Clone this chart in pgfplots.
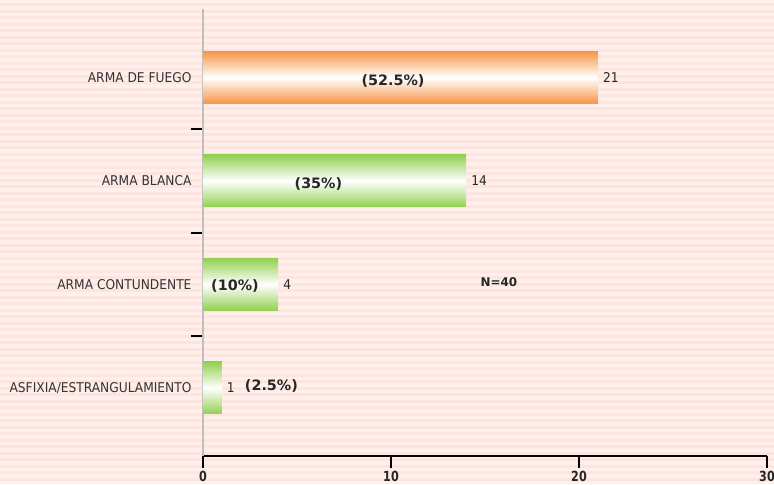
\documentclass[border=0pt]{standalone}
\usepackage{fontspec}
\setmainfont{DejaVu Sans}
\newfontfamily\condfont{DejaVu Sans}[FakeStretch=0.91]
\newfontfamily\tickfont{DejaVu Sans}[FakeStretch=0.8]
\usepackage{pgfplots}
\pgfplotsset{compat=1.18}
\usetikzlibrary{backgrounds,calc}
\definecolor{bgA}{HTML}{FCE5E0}
\definecolor{bgB}{HTML}{FFEEEA}
\definecolor{orangeE}{HTML}{F79646}
\definecolor{greenE}{HTML}{92D050}
\definecolor{txt}{HTML}{262626}
\pgfplotsset{
  mybar/.style={xbar, bar width=52bp, bar shift=0pt, draw=none, top color=#1, bottom color=#1, middle color=white, nodes near coords},
}
\begin{document}
\begin{tikzpicture}
\begin{axis}[
  scale only axis, width=564bp, height=447bp,
  xmin=0, xmax=30, ymin=-0.66, ymax=3.66,
  axis x line*=bottom, axis y line*=left,
  x axis line style={black, line width=2bp, -},
  y axis line style={draw=black!25, line width=2bp, -},
  xtick={0,10,20,30},
  ytick={0,1,2,3},
  yticklabels={ASFIXIA/ESTRANGULAMIENTO, ARMA CONTUNDENTE, ARMA BLANCA, ARMA DE FUEGO},
  minor ytick={0.5,1.5,2.5},
  tick align=outside,
  major tick length=12bp, minor tick length=12bp,
  major x tick style={black, line width=2bp},
  major y tick style={draw=none},
  minor y tick style={black, line width=2bp},
  /pgf/number format/assume math mode=true,
  xticklabel style={font=\tickfont\bfseries\fontsize{14}{14}\selectfont, text=txt, inner sep=0pt, yshift=-3bp},
  yticklabel style={font=\condfont\fontsize{13.5}{14}\selectfont, text=black!80, xshift=4bp},
  every node near coord/.append style={font=\condfont\fontsize{13.5}{14}\selectfont, text=txt, anchor=west, inner sep=1bp, xshift=4bp},
]
\addplot[mybar=orangeE] coordinates {(21,3)};
\addplot[mybar=greenE] coordinates {(14,2)};
\addplot[mybar=greenE] coordinates {(4,1)};
\addplot[mybar=greenE] coordinates {(1,0)};
\begin{scope}[every node/.style={font=\bfseries\fontsize{14.4}{15}\selectfont, text=txt}]
\node at (axis cs:10.11,2.964) {(52.5\%)};
\node at (axis cs:6.14,1.97) {(35\%)};
\node at (axis cs:1.70,0.98) {(10\%)};
\node at (axis cs:3.64,0.016) {(2.5\%)};
\end{scope}
\node[font=\bfseries\fontsize{12}{13}\selectfont, text=txt] at (axis cs:15.74,1.02) {N=40};
\coordinate (BL) at (axis cs:0,-0.66);
\end{axis}
\pgfresetboundingbox
\begin{scope}[on background layer, x=1bp, y=1bp]
\fill[bgA] ($(BL)+(-203,-28)$) rectangle +(774,483);
\foreach \i in {0,...,74} {\fill[bgB] ($(BL)+(-203,-28+\i*6.5)$) rectangle +(774,3.2);}
\end{scope}
\useasboundingbox[x=1bp, y=1bp] ($(BL)+(-203,-28)$) rectangle +(774,483);
\end{tikzpicture}
\end{document}
